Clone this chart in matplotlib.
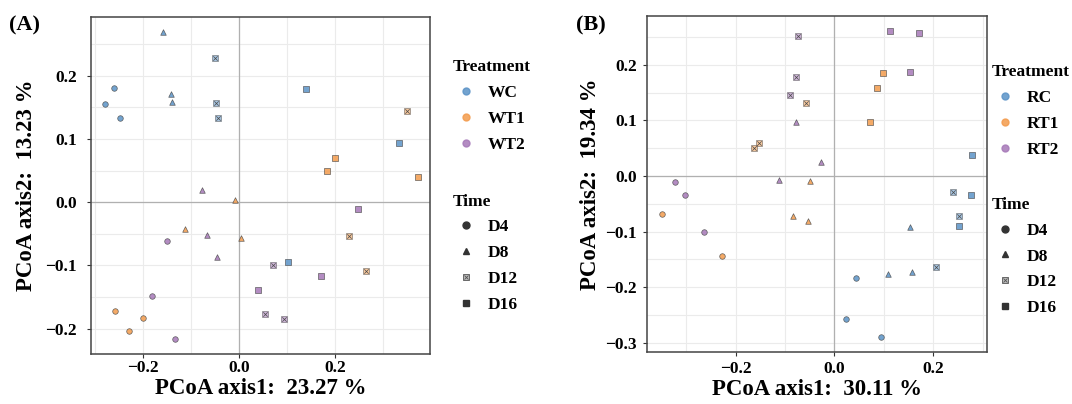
# -*- coding: utf-8 -*-
"""
PCoA 散点图 (A) 水体 / (B) 根际
颜色 = Treatment, 形状 = Time
"""

import matplotlib
matplotlib.use('Agg')
import matplotlib.pyplot as plt
from matplotlib.lines import Line2D
from matplotlib.ticker import MultipleLocator

plt.rcParams['font.family'] = ['Liberation Serif', 'DejaVu Serif']
plt.rcParams['font.weight'] = 'bold'

# ---------------- 数据 ----------------
times = ['D4', 'D8', 'D12', 'D16']

a_treatments = ['WC', 'WT1', 'WT2']
a_treat = ['WC'] * 12 + ['WT1'] * 12 + ['WT2'] * 12
a_time = (['D4'] * 3 + ['D8'] * 3 + ['D12'] * 3 + ['D16'] * 3) * 3
a_x = [-0.260, -0.278, -0.247, -0.158, -0.142, -0.139, -0.050, -0.048, -0.043, 0.140, 0.332, 0.102,
       -0.258, -0.229, -0.200, -0.112, -0.008, 0.004, 0.348, 0.229, 0.264, 0.200, 0.182, 0.371,
       -0.149, -0.182, -0.133, -0.078, -0.066, -0.046, 0.071, 0.053, 0.093, 0.247, 0.170, 0.039]
a_y = [0.180, 0.156, 0.134, 0.269, 0.171, 0.159, 0.228, 0.157, 0.134, 0.179, 0.093, -0.094,
       -0.172, -0.204, -0.183, -0.043, 0.003, -0.057, 0.144, -0.053, -0.108, 0.070, 0.050, 0.040,
       -0.061, -0.148, -0.216, 0.020, -0.052, -0.086, -0.100, -0.177, -0.184, -0.011, -0.116, -0.139]

b_treatments = ['RC', 'RT1', 'RT2']
b_treat = ['RC'] * 12 + ['RT1'] * 11 + ['RT2'] * 12
b_time = (['D4'] * 3 + ['D8'] * 3 + ['D12'] * 3 + ['D16'] * 3
          + ['D4'] * 2 + ['D8'] * 3 + ['D12'] * 3 + ['D16'] * 3
          + ['D4'] * 3 + ['D8'] * 3 + ['D12'] * 3 + ['D16'] * 3)
b_x = [0.044, 0.023, 0.095, 0.153, 0.157, 0.109, 0.241, 0.253, 0.205, 0.277, 0.253, 0.278,
       -0.349, -0.228, -0.083, -0.053, -0.049, -0.058, -0.152, -0.162, 0.099, 0.086, 0.072,
       -0.322, -0.302, -0.264, -0.078, -0.027, -0.113, -0.073, -0.078, -0.090, 0.113, 0.172, 0.153]
b_y = [-0.183, -0.258, -0.290, -0.092, -0.173, -0.177, -0.028, -0.071, -0.164, -0.035, -0.090, 0.037,
       -0.068, -0.143, -0.072, -0.080, -0.009, 0.132, 0.060, 0.051, 0.185, 0.158, 0.097,
       -0.011, -0.035, -0.100, 0.098, 0.025, -0.007, 0.252, 0.179, 0.146, 0.261, 0.257, 0.187]

a_var = (23.27, 13.23)
b_var = (30.11, 19.34)

# ---------------- 样式 ----------------
COLORS = ['#5b93c7', '#f39b4c', '#a678b8']
MARKERS = {'D4': 'o', 'D8': '^', 'D12': 's', 'D16': 's'}
EDGE = '#4a4a4a'


def draw_panel(ax, xs, ys, treat, time, treatments, xpad, ypad):
    for ti, tr in enumerate(treatments):
        for tm in times:
            px = [x for x, a, b in zip(xs, treat, time) if a == tr and b == tm]
            py = [y for y, a, b in zip(ys, treat, time) if a == tr and b == tm]
            if not px:
                continue
            if tm == 'D12':
                # 方框叉号
                ax.scatter(px, py, s=16, marker='s', facecolor=COLORS[ti], alpha=0.55,
                           edgecolor=EDGE, linewidth=0.6, zorder=3)
                ax.scatter(px, py, s=10, marker='x', color=EDGE, linewidth=0.5, zorder=4)
            else:
                ax.scatter(px, py, s=16, marker=MARKERS[tm], facecolor=COLORS[ti], alpha=0.85,
                           edgecolor=EDGE, linewidth=0.5, zorder=3)

    ax.axhline(0, color='#b0b0b0', lw=0.9, zorder=1)
    ax.axvline(0, color='#b0b0b0', lw=0.9, zorder=1)
    ax.xaxis.set_major_locator(MultipleLocator(0.2))
    ax.xaxis.set_minor_locator(MultipleLocator(0.1))
    ax.yaxis.set_major_locator(MultipleLocator(0.1))
    ax.yaxis.set_minor_locator(MultipleLocator(0.05))
    ax.grid(True, which='both', color='#ebebeb', lw=0.8, zorder=0)
    ax.set_axisbelow(True)
    ax.tick_params(which='major', length=3, width=0.8, labelsize=12.5, color='#333333')
    ax.tick_params(axis='x', pad=xpad)
    ax.tick_params(axis='y', pad=ypad)
    ax.tick_params(which='minor', length=0)
    for lab in ax.get_xticklabels() + ax.get_yticklabels():
        lab.set_fontweight('bold')
    for sp in ax.spines.values():
        sp.set_color('#444444')
        sp.set_linewidth(1.1)


def add_legends(fig, treatments, x0, y_treat, y_time):
    h1 = [Line2D([], [], ls='', marker='o', ms=5, color=c, alpha=0.85) for c in COLORS]
    leg1 = fig.legend(h1, treatments, title='Treatment', loc='upper left',
                      bbox_to_anchor=(x0, y_treat), frameon=False, fontsize=12.5,
                      title_fontsize=12.5, handletextpad=0.5, labelspacing=0.56,
                      handlelength=1.5, borderaxespad=0)
    leg1._legend_box.align = 'left'
    leg1.get_title().set_fontweight('bold')
    h2 = [Line2D([], [], ls='', marker='o', ms=5, color='#333333'),
          Line2D([], [], ls='', marker='^', ms=5, color='#333333'),
          (Line2D([], [], ls='', marker='s', ms=5, mfc='#bbbbbb', mec='#555555', mew=0.6),
           Line2D([], [], ls='', marker='x', ms=3.5, color='#555555', mew=0.6)),
          Line2D([], [], ls='', marker='s', ms=5, color='#333333')]
    leg2 = fig.legend(h2, times, title='Time', loc='upper left',
                      bbox_to_anchor=(x0, y_time), frameon=False, fontsize=12.5,
                      title_fontsize=12.5, handletextpad=0.5, labelspacing=0.56,
                      handlelength=1.5, borderaxespad=0)
    leg2._legend_box.align = 'left'
    leg2.get_title().set_fontweight('bold')


fig = plt.figure(figsize=(10.72, 4.04), dpi=100)

ax1 = fig.add_axes([0.0849, 0.1238, 0.3163, 0.834])
draw_panel(ax1, a_x, a_y, a_treat, a_time, a_treatments, xpad=1.0, ypad=7)
ax1.set_xlim(-0.308, 0.397)
ax1.set_ylim(-0.240, 0.293)
ax1.set_xlabel(f'PCoA axis1:  {a_var[0]:.2f} %', fontsize=16.5, fontweight='bold', labelpad=2)
ax1.set_ylabel(f'PCoA axis2:  {a_var[1]:.2f} %', fontsize=16.5, fontweight='bold', labelpad=6)
fig.text(0.008, 0.925, '(A)', fontsize=16, fontweight='bold')

ax2 = fig.add_axes([0.6033, 0.1295, 0.3172, 0.831])
draw_panel(ax2, b_x, b_y, b_treat, b_time, b_treatments, xpad=4, ypad=4)
ax2.set_xlim(-0.380, 0.3085)
ax2.set_ylim(-0.316, 0.288)
ax2.set_xlabel(f'PCoA axis1:  {b_var[0]:.2f} %', fontsize=16.5, fontweight='bold', labelpad=1)
ax2.set_ylabel(f'PCoA axis2:  {b_var[1]:.2f} %', fontsize=16.5, fontweight='bold', labelpad=3)
fig.text(0.537, 0.925, '(B)', fontsize=16, fontweight='bold')

add_legends(fig, a_treatments, 0.416, 0.87, 0.538)
add_legends(fig, b_treatments, 0.919, 0.858, 0.53)

fig.savefig('out.png', dpi=100)
